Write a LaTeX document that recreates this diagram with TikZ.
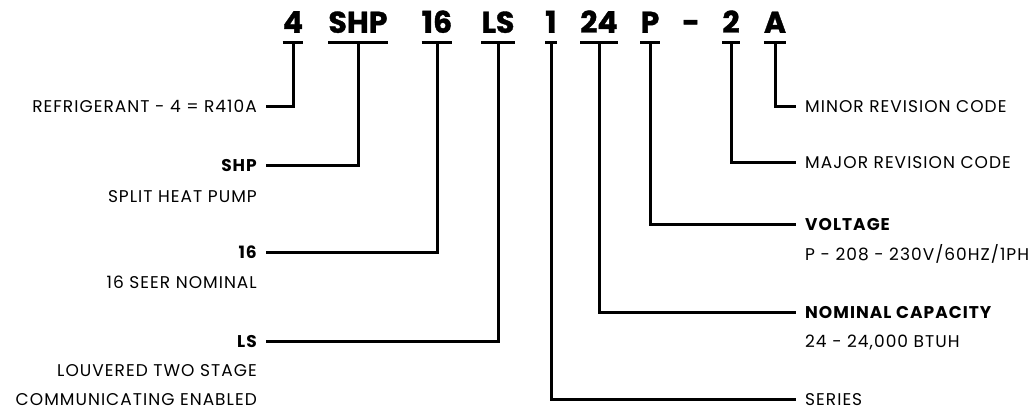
\documentclass[tikz,border=0pt]{standalone}
\usepackage{fontspec}
\setmainfont{Poppins}[LetterSpace=6]
\newfontfamily\codefont{Poppins}[BoldFeatures={FakeBold=1.2}]
\usetikzlibrary{positioning}
\tikzset{
	codeseg/.style={
		anchor=south,
		inner sep=0pt,
		text height=21pt,
		text depth=10pt,
		font=\codefont\fontsize{30}{30}\selectfont\bfseries},
	lbl/.style={
		inner xsep=9pt, inner ysep=0pt,
		text height=12pt, text depth=0pt,
		font=\fontsize{17}{17}\selectfont},
	lblhead/.style={lbl, font=\fontsize{17}{17}\selectfont\bfseries},
	bar/.style={draw, line width=3pt},
	leader/.style={draw, line width=3pt},
}
\begin{document}
\begin{tikzpicture}[x=1pt, y=-1pt]
	\useasboundingbox (0,0) rectangle (1028,411);
	% model number
	\node[codeseg] (c4) at (293,43) {4};
	\node[codeseg] (cshp) at (358,43) {SHP};
	\node[codeseg] (c16) at (437,43) {16};
	\node[codeseg] (cls) at (498,43) {LS};
	\node[codeseg] (c1) at (551,43) {1};
	\node[codeseg] (c24) at (599,43) {24};
	\node[codeseg] (cp) at (650,43) {P};
	\node[codeseg] (cdash) at (691,43) {-};
	\node[codeseg] (c2) at (731,43) {2};
	\node[codeseg] (ca) at (775,43) {A};
	\foreach \c in {c4,cshp,c16,cls,c1,c24,cp,c2,ca}
		\draw[bar] (\c.south west) -- (\c.south east);
	
	% left side
	\node[lbl, anchor=east] (lref) at (266,107) {REFRIGERANT - 4 = R410A};
	\node[lblhead, anchor=east] (hshp) at (266,166) {SHP};
	\node[lbl, below=31pt of hshp.east, anchor=east] (dshp) {SPLIT HEAT PUMP};
	\node[lblhead, anchor=east] (h16) at (266,253) {16};
	\node[lbl, below=30pt of h16.east, anchor=east] (d16) {16 SEER NOMINAL};
	\node[lblhead, anchor=east] (hls) at (266,342) {LS};
	\node[lbl, below=29pt of hls.east, anchor=east] (dls) {LOUVERED TWO STAGE};
	\node[lbl, below=29pt of dls.east, anchor=east] (dls2) {COMMUNICATING ENABLED};
	
	% right side
	\node[lbl, anchor=west] (lminor) at (796,107) {MINOR REVISION CODE};
	\node[lbl, anchor=west] (lmajor) at (796,163) {MAJOR REVISION CODE};
	\node[lblhead, anchor=west] (hvolt) at (796,225) {VOLTAGE};
	\node[lbl, below=30pt of hvolt.west, anchor=west] (dvolt) {P - 208 - 230V/60HZ/1PH};
	\node[lblhead, anchor=west] (hcap) at (796,313) {NOMINAL CAPACITY};
	\node[lbl, below=29pt of hcap.west, anchor=west] (dcap) {24 - 24,000 BTUH};
	\node[lbl, anchor=west] (lser) at (796,400) {SERIES};
	
	% leaders
	\draw[leader] (c4.south) |- (lref.east);
	\draw[leader] (cshp.south) |- (hshp.east);
	\draw[leader] (c16.south) |- (h16.east);
	\draw[leader] (cls.south) |- (hls.east);
	\draw[leader] (c1.south) |- (lser.west);
	\draw[leader] (c24.south) |- (hcap.west);
	\draw[leader] (cp.south) |- (hvolt.west);
	\draw[leader] (c2.south) |- (lmajor.west);
	\draw[leader] (ca.south) |- (lminor.west);
\end{tikzpicture}
\end{document}
